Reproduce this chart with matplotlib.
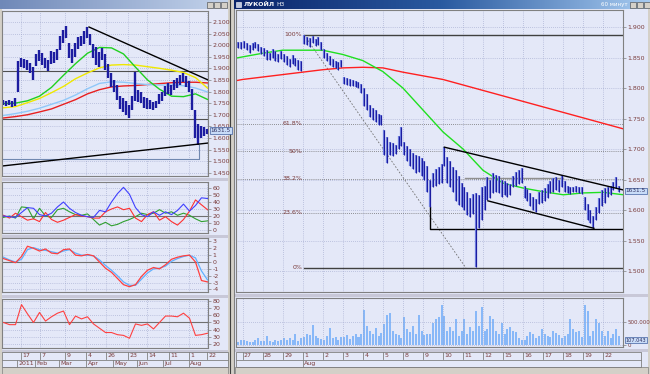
import numpy as np
import matplotlib.pyplot as plt
from matplotlib.colors import LinearSegmentedColormap
from matplotlib.patches import Rectangle

W, H = 650, 374
BG = '#e4e8f8'
WIN = '#d4d0c8'
FRAME = '#808080'
GRID = '#98a0c8'
LBL = '#7a3c3c'
BAR = '#1c1ca0'
FS = 4.5

# ---------------- left window: daily, Jan - Aug 2011 ----------------
l_high = [1762, 1760, 1764, 1758, 1770, 1930, 1945, 1940, 1935, 1925,
          1905, 1960, 1980, 1965, 1945, 1935, 1975, 1970, 1985, 2040,
          2065, 2083, 2010, 1985, 2010, 2035, 2040, 2060, 2078, 2050,
          2005, 1990, 1970, 1988, 1960, 1920, 1880, 1850, 1830, 1780,
          1770, 1760, 1740, 1780, 1884, 1805, 1800, 1775, 1770, 1765,
          1755, 1760, 1790, 1800, 1825, 1835, 1830, 1850, 1860, 1870,
          1880, 1865, 1845, 1810, 1720, 1660, 1650, 1645, 1640]
l_low = [1740, 1738, 1742, 1735, 1738, 1800, 1905, 1900, 1892, 1880,
         1850, 1910, 1930, 1915, 1900, 1890, 1920, 1925, 1935, 1980,
         2010, 2030, 1945, 1925, 1950, 1985, 1995, 2005, 2030, 2000,
         1945, 1915, 1906, 1935, 1893, 1860, 1820, 1800, 1765, 1725,
         1710, 1700, 1686, 1720, 1760, 1755, 1750, 1730, 1725, 1725,
         1720, 1728, 1745, 1760, 1780, 1790, 1785, 1805, 1815, 1830,
         1840, 1820, 1800, 1720, 1600, 1570, 1600, 1610, 1615]
l_last = 1631.5

# moving averages, sampled every 4th bar
l_ma_green = [1748, 1750, 1760, 1780, 1818, 1870, 1920, 1965, 1990, 1988,
              1962, 1905, 1850, 1810, 1780, 1778, 1790, 1766]
l_ma_yellow = [1730, 1735, 1752, 1770, 1795, 1822, 1855, 1880, 1902, 1914,
               1916, 1914, 1907, 1900, 1892, 1882, 1860, 1815]
l_ma_blue = [1697, 1705, 1715, 1728, 1745, 1762, 1785, 1812, 1835, 1842,
             1840, 1835, 1830, 1828, 1828, 1825, 1815, 1798]
l_ma_red = [1686, 1692, 1700, 1712, 1725, 1745, 1765, 1790, 1808, 1820,
            1824, 1826, 1830, 1834, 1838, 1840, 1840, 1837]

# indicators, sampled every 2nd bar
dmi_blue = [20, 19, 18, 25, 32, 31, 22, 20, 24, 33, 40, 31, 25, 21, 19, 18, 28, 26,
            40, 52, 61, 51, 32, 22, 19, 26, 21, 26, 22, 28, 37, 27, 35, 46, 45]
dmi_red = [21, 17, 24, 19, 14, 16, 12, 25, 15, 11, 14, 18, 22, 20, 19, 17, 17, 26,
           30, 33, 29, 31, 17, 12, 22, 26, 14, 19, 12, 7, 15, 27, 43, 36, 29]
dmi_green = [18, 20, 17, 33, 32, 16, 31, 20, 18, 29, 31, 26, 22, 21, 23, 15, 7, 11,
             6, 8, 12, 15, 19, 24, 22, 24, 29, 24, 26, 21, 24, 21, 16, 12, 13]
macd_red = [0.5, 0.2, -0.1, 0.8, 2.3, 2.0, 1.6, 1.9, 1.3, 1.2, 1.8, 1.9, 1.0, 0.9,
            1.1, 0.9, 0.0, -0.9, -1.5, -2.4, -3.3, -3.6, -3.3, -2.1, -1.2, -0.8,
            -1.0, -0.4, 0.4, 0.7, 0.9, 1.0, 0.0, -2.7, -2.9]
macd_blue = [0.7, 0.3, 0.0, 0.4, 1.8, 2.1, 1.8, 1.7, 1.5, 1.3, 1.6, 1.8, 1.3, 1.0,
             1.0, 0.9, 0.3, -0.5, -1.2, -2.0, -2.9, -3.4, -3.4, -2.5, -1.6, -1.0,
             -0.9, -0.6, 0.1, 0.5, 0.8, 1.0, 0.6, -1.3, -2.6]
rsi = [50, 47, 47, 75, 62, 50, 64, 52, 58, 63, 66, 47, 59, 55, 58, 48, 42, 36,
       36, 33, 32, 28, 48, 46, 48, 41, 50, 59, 59, 58, 63, 56, 32, 33, 35]

l_day_pos = [5.8, 12.2, 20.5, 27.5, 34.2, 41.5, 47.8, 55.2, 61.8, 67.8]
l_day_lbl = ['17', '7', '9', '4', '26', '23', '14', '11', '1', '22']
l_mon_pos = [4.5, 10.5, 18.5, 27.5, 36.5, 44.5, 53.2, 61.8]
l_mon_lbl = ['2011', 'Feb', 'Mar', 'Apr', 'May', 'Jun', 'Jul', 'Aug']

# ---------------- right window: hourly, 26 Jul - 22 Aug 2011 ----------------
r_days = ['26', '27', '28', '29', '1', '2', '3', '4', '5', '8', '9', '10',
          '11', '12', '15', '16', '17', '18', '19', '22']
r_high = [
    [1875, 1876],
    [1877, 1874, 1870, 1873, 1876, 1872, 1868],
    [1866, 1862, 1858, 1864, 1860, 1856, 1860],
    [1856, 1852, 1848, 1854, 1850, 1846, 1844],
    [1887, 1884, 1882, 1885, 1880, 1883, 1876],
    [1864, 1858, 1852, 1848, 1845, 1842, 1846],
    [1818, 1816, 1815, 1813, 1812, 1810, 1806],
    [1800, 1790, 1772, 1768, 1764, 1758, 1755],
    [1731, 1720, 1712, 1710, 1706, 1722, 1736],
    [1712, 1705, 1700, 1694, 1690, 1688, 1686],
    [1680, 1672, 1650, 1660, 1668, 1671, 1676],
    [1703, 1687, 1680, 1670, 1666, 1655, 1645],
    [1638, 1630, 1620, 1626, 1628, 1625, 1638],
    [1640, 1654, 1650, 1660, 1658, 1656, 1649],
    [1648, 1645, 1642, 1656, 1662, 1666, 1669],
    [1640, 1634, 1628, 1621, 1618, 1630, 1633],
    [1636, 1642, 1648, 1652, 1654, 1650, 1657],
    [1648, 1640, 1638, 1637, 1640, 1638, 1638],
    [1622, 1610, 1600, 1590, 1605, 1620, 1633],
    [1636, 1638, 1640, 1646, 1654, 1640],
]
r_low = [
    [1865, 1864],
    [1866, 1862, 1858, 1862, 1865, 1860, 1855],
    [1852, 1846, 1846, 1850, 1845, 1843, 1847],
    [1842, 1838, 1834, 1840, 1836, 1830, 1828],
    [1872, 1870, 1868, 1874, 1869, 1870, 1862],
    [1850, 1844, 1838, 1834, 1832, 1830, 1834],
    [1806, 1805, 1804, 1803, 1802, 1800, 1792],
    [1770, 1764, 1752, 1748, 1744, 1740, 1739],
    [1690, 1677, 1690, 1688, 1692, 1700, 1705],
    [1690, 1680, 1672, 1668, 1660, 1662, 1655],
    [1650, 1630, 1605, 1638, 1640, 1642, 1645],
    [1672, 1645, 1638, 1630, 1615, 1608, 1605],
    [1600, 1592, 1589, 1594, 1507, 1570, 1584],
    [1600, 1616, 1620, 1628, 1630, 1628, 1622],
    [1624, 1621, 1625, 1638, 1640, 1642, 1645],
    [1620, 1614, 1606, 1600, 1597, 1610, 1612],
    [1614, 1620, 1628, 1630, 1632, 1630, 1638],
    [1630, 1628, 1627, 1629, 1630, 1628, 1626],
    [1600, 1584, 1578, 1571, 1584, 1595, 1606],
    [1612, 1621, 1624, 1632, 1636, 1630],
]
r_vol = [
    [60, 110],
    [120, 90, 70, 60, 110, 150, 90],
    [80, 200, 90, 60, 120, 80, 100],
    [150, 110, 160, 100, 250, 90, 160],
    [180, 240, 220, 440, 200, 150, 130],
    [110, 200, 380, 150, 170, 120, 180],
    [180, 220, 130, 200, 250, 180, 230],
    [760, 420, 300, 250, 380, 200, 260],
    [450, 650, 700, 300, 250, 220, 160],
    [600, 350, 280, 420, 250, 650, 300],
    [220, 250, 250, 480, 560, 600, 880],
    [620, 300, 400, 300, 560, 200, 300],
    [560, 250, 400, 300, 750, 420, 820],
    [300, 350, 620, 560, 300, 250, 480],
    [250, 350, 400, 300, 280, 150, 100],
    [120, 200, 280, 250, 150, 200, 350],
    [250, 200, 180, 300, 260, 220, 150],
    [200, 240, 560, 350, 280, 300, 180],
    [870, 750, 200, 300, 560, 470, 300],
    [200, 300, 160, 240, 340, 200],
]
r_last = 1631.5
r_vol_last = 107043

r_ma_green = [1849, 1851, 1857, 1862, 1862, 1862, 1855, 1845, 1827, 1800, 1764,
              1728, 1700, 1665, 1644, 1636, 1630, 1625, 1628, 1629, 1625]
r_ma_red = [1812, 1814, 1818, 1822, 1826, 1830, 1833, 1834, 1833, 1826, 1820,
            1814, 1805, 1796, 1787, 1778, 1769, 1760, 1751, 1742, 1733]

fib_hi, fib_lo = 1887, 1505
fib_levels = [0, 0.236, 0.382, 0.5, 0.618, 1]


def dotted(v):
    return f'{v:,}'.replace(',', '.')


# flatten hourly bars: day d starts at (d - 1) * 7, first day aligned to its end
rx, rh, rl, rv = [], [], [], []
for d, (hh, ll, vv) in enumerate(zip(r_high, r_low, r_vol)):
    start = (d - 1) * 7 + (7 - len(hh) if d == 0 else 0)
    for j in range(len(hh)):
        rx.append(start + j + 0.5)
        rh.append(hh[j])
        rl.append(ll[j])
        rv.append(vv[j] * 1000)
r_bounds = [(d - 1) * 7 for d in range(1, len(r_days))]
r_ma_x = np.r_[-2.3, np.arange(0, 134, 7)]
r_xlim = (-2.27, 132.85)

lx = np.arange(len(l_high))
l_ma_x = np.arange(0, len(l_high), 4)
l_ind_x = np.arange(0, len(l_high), 2)
l_xlim = (-0.5, 68.17)

fig = plt.figure(figsize=(W / 100, H / 100), dpi=100)
fig.patch.set_facecolor(WIN)


def place(x0, y0, x1, y1):
    return fig.add_axes([x0 / W, 1 - y1 / H, (x1 - x0) / W, (y1 - y0) / H])


# background: windows, title bars, separators
bg = place(0, 0, W, H)
bg.add_patch(Rectangle((2, 9), 226, 358, fc=BG, ec='none'))
bg.add_patch(Rectangle((235, 9), 413, 358, fc=BG, ec='none'))
grad = np.linspace(0, 1, 256)[None, :]
act = LinearSegmentedColormap.from_list('act', ['#0a246a', '#2a5aa0', '#a6caf0'])
inact = LinearSegmentedColormap.from_list('inact', ['#6f88b8', '#c4d4ec'])
bg.imshow(grad, cmap=inact, extent=(0, 229, 9, 0), aspect='auto')
bg.imshow(grad, cmap=act, extent=(233, 650, 9, 0), aspect='auto')
bg.add_patch(Rectangle((236, 2), 5, 5, fc='#c0c8e0', ec='white', lw=0.4))
bg.text(244, 4.8, 'ЛУКОЙЛ', color='white', fontsize=4.5, va='center', fontweight='bold')
bg.text(276, 4.8, 'H3', color='white', fontsize=4.2, va='center')
bg.text(628, 4.8, '60 минут', color='white', fontsize=4, va='center', ha='right')
for bx in (630, 637, 644):
    bg.add_patch(Rectangle((bx, 1.5), 5.5, 6, fc=WIN, ec='#404040', lw=0.4))
for bx in (207, 214, 221):
    bg.add_patch(Rectangle((bx, 1.5), 5.5, 6, fc=WIN, ec='#404040', lw=0.4))
bg.add_patch(Rectangle((228, 0), 6, H, fc=WIN, ec='none'))
bg.plot([229.5, 229.5], [0, H], color='#404040', lw=0.8)
bg.plot([233.5, 233.5], [9, H], color='#808080', lw=0.8)
for y in (178, 235, 295, 350):
    bg.add_patch(Rectangle((2, y), 226, 2.5, fc='#c8c8d8', ec='none'))
for y in (294, 349):
    bg.add_patch(Rectangle((235, y), 413, 2.5, fc='#c8c8d8', ec='none'))
bg.add_patch(Rectangle((2, 367), 226, 7, fc=WIN, ec=FRAME, lw=0.5))
bg.add_patch(Rectangle((235, 367), 413, 7, fc=WIN, ec=FRAME, lw=0.5))
bg.add_patch(Rectangle((2, 352), 226, 15, fill=False, ec=FRAME, lw=0.6))
bg.add_patch(Rectangle((236, 352), 405, 15, fill=False, ec=FRAME, lw=0.6))
bg.plot([2, 228], [359.5, 359.5], color=FRAME, lw=0.6)
bg.plot([236, 641], [359.5, 359.5], color=FRAME, lw=0.6)
bg.set_xlim(0, W)
bg.set_ylim(H, 0)
bg.axis('off')


def panel(box, xlim, ylim, yticks, ylabels, vgrid, lsize=FS):
    ax = place(*box)
    ax.set_facecolor('none')
    ax.set_xlim(xlim)
    ax.set_ylim(ylim)
    ax.set_xticks(vgrid)
    ax.set_xticklabels([])
    ax.set_yticks(yticks)
    ax.set_yticklabels(ylabels)
    ax.yaxis.tick_right()
    ax.tick_params(axis='x', length=0)
    ax.tick_params(axis='y', length=2, width=0.5, color=FRAME, pad=1.2,
                   labelsize=lsize, labelcolor=LBL)
    ax.grid(True, color=GRID, lw=0.5, ls=(0, (1, 2)))
    for s in ax.spines.values():
        s.set_color(FRAME)
        s.set_linewidth(0.8)
    return ax


def price_tag(ax, val, text, size=FS):
    ax.annotate(text, xy=(1, val), xycoords=('axes fraction', 'data'),
                xytext=(2, 0), textcoords='offset points', va='center',
                fontsize=size, color='#303060', annotation_clip=False,
                bbox=dict(boxstyle='square,pad=0.12', fc='#c8dcf8', ec='#4060a0', lw=0.5))


# ---- left price panel ----
lp_ticks = list(range(1450, 2101, 50))
ax = panel((2, 11, 208, 176), l_xlim, (1436, 2147), lp_ticks,
           [dotted(v) for v in lp_ticks], l_day_pos)
ax.axhline(1889, color='#505050', lw=0.8)
ax.axhline(1682, color='#505050', lw=0.8)
ax.plot([-0.5, 65.2, 65.2], [1509, 1509, 1570], color='#7088b0', lw=0.8)
ax.plot(l_ma_x, l_ma_red, color='#e82020', lw=1)
ax.plot(l_ma_x, l_ma_blue, color='#90c8f8', lw=1)
ax.plot(l_ma_x, l_ma_yellow, color='#f0e800', lw=1)
ax.plot(l_ma_x, l_ma_green, color='#20d020', lw=1)
ax.vlines(lx, l_low, l_high, color=BAR, lw=1.7)
ax.plot([28.5, l_xlim[1]], [2078, 1850], color='black', lw=1)
ax.plot([l_xlim[0], l_xlim[1]], [1479, 1578], color='black', lw=1)
price_tag(ax, l_last, f'{l_last:.1f}', 4.2)

# ---- left DMI ----
t = list(range(0, 61, 10))
ax = panel((2, 182, 208, 233), l_xlim, (-4.3, 68.6), t, [str(v) for v in t], l_day_pos)
ax.axhline(20, color='#707070', lw=0.8)
ax.plot(l_ind_x, dmi_green, color='#30a030', lw=0.8)
ax.plot(l_ind_x, dmi_red, color='#ff3030', lw=0.8)
ax.plot(l_ind_x, dmi_blue, color='#4040ff', lw=0.8)

# ---- left MACD ----
t = list(range(3, -5, -1))
ax = panel((2, 238, 208, 292), l_xlim, (-4.37, 3.5), t, [str(v) for v in t], l_day_pos)
ax.axhline(0, color='#707070', lw=0.8)
ax.plot(l_ind_x, macd_blue, color='#60b0ff', lw=0.9)
ax.plot(l_ind_x, macd_red, color='#ff4040', lw=0.9)

# ---- left RSI ----
t = list(range(80, 19, -10))
ax = panel((2, 299, 208, 348), l_xlim, (14.4, 82.8), t, [str(v) for v in t], l_day_pos)
ax.axhline(50, color='#707070', lw=0.8)
ax.plot(l_ind_x, rsi, color='#ff4040', lw=0.8)

# ---- right price panel ----
rp_ticks = list(range(1500, 1901, 50))
ax = panel((236, 10, 623, 292), r_xlim, (1465.6, 1927.9), rp_ticks,
           [dotted(v) for v in rp_ticks], r_bounds)
fib_x0 = 21.5
for lv in fib_levels:
    y = fib_lo + lv * (fib_hi - fib_lo)
    if lv in (0, 1):
        ax.plot([fib_x0, r_xlim[1]], [y, y], color='#404040', lw=1)
    else:
        ax.axhline(y, color='#707070', lw=0.6, ls=(0, (1, 1.5)))
    lbl = f'{lv * 100:g}%'
    ax.text(fib_x0 - 0.6, y, lbl, ha='right', va='center', fontsize=FS, color=LBL)
ax.plot([fib_x0, 78], [fib_hi, fib_lo], color='#707070', lw=0.6, ls=(0, (2, 2)))
ax.plot([77.7, 112], [1652, 1652], color='#909090', lw=1)
ax.plot([65.5, 65.5, r_xlim[1]], [1605, 1569, 1569], color='black', lw=1)
ax.plot(r_ma_x, r_ma_red, color='#ff2020', lw=1)
ax.plot(r_ma_x, r_ma_green, color='#20e020', lw=1)
ax.vlines(rx, rl, rh, color='#7080e0', lw=1.6)
ax.vlines(rx, rl, rh, color=BAR, lw=0.8)
ax.plot([70.5, r_xlim[1]], [1703, 1633], color='black', lw=1)
ax.plot([85.7, 122.7], [1615, 1570], color='black', lw=1)
price_tag(ax, r_last, f'{r_last:.1f}', 4.2)

# ---- right volume ----
ax = panel((236, 298, 623, 347), r_xlim, (-43000, 1022000), [0, 500000],
           ['0', '500.000'], r_bounds, 4.0)
ax.bar(rx, rv, width=0.7, color='#88b8f8', edgecolor='none')
price_tag(ax, r_vol_last, dotted(r_vol_last), 3.6)


# ---- date rows ----
def date_row(box, xlim, pos, labels):
    a = place(*box)
    a.set_xlim(xlim)
    a.set_ylim(0, 1)
    a.axis('off')
    for p, s in zip(pos, labels):
        a.plot([p, p], [0, 1], color=FRAME, lw=0.6, clip_on=False)
        a.text(p + 0.5, 0.45, s, fontsize=FS, color=LBL, va='center', ha='left',
               clip_on=False)
    return a


date_row((2, 352, 208, 359), l_xlim, l_day_pos, l_day_lbl)
date_row((2, 359.5, 208, 367), l_xlim, l_mon_pos, l_mon_lbl)
date_row((236, 352, 623, 359), r_xlim, r_bounds, r_days[1:])
date_row((236, 359.5, 623, 367), r_xlim, [r_bounds[3]], ['Aug'])

fig.savefig('out.png', dpi=100, facecolor=fig.get_facecolor())
